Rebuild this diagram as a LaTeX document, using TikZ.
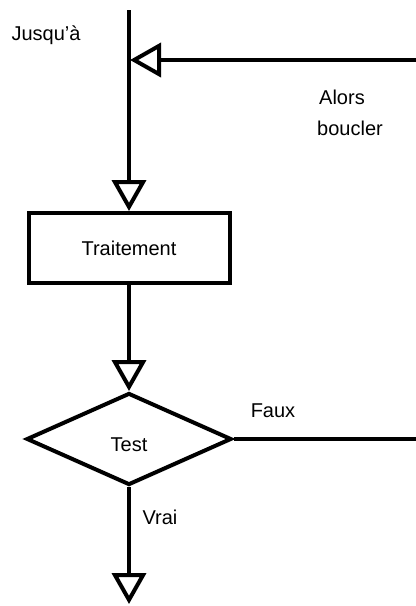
\documentclass[tikz,border=0pt]{standalone}
\usepackage{fontspec}
\setmainfont{Liberation Sans}
\usetikzlibrary{arrows.meta,shapes.geometric}
\begin{document}
\begin{tikzpicture}[line join=miter,>={Triangle[open,length=15.5pt,width=17pt]},x=0.5pt,y=-0.5pt,line width=2pt,
		bloc/.style={draw,rectangle,minimum width=100.5pt,minimum height=35pt,inner sep=0pt},
		choix/.style={draw,diamond,minimum width=102.5pt,minimum height=46pt,inner sep=0pt},
		lbl/.style={font=\fontsize{10}{12}\selectfont,inner sep=0pt}]
		\useasboundingbox (0,0) rectangle (416,606);
		\coordinate (haut) at (129,10);
		\coordinate (jonction) at (130,60);
		\coordinate (retour) at (416,60);
		\coordinate (faux) at (416,439);
		\coordinate (bas) at (129,604);
		\node[bloc,lbl] (traitement) at (129,248) {Traitement};
		\node[choix] (test) at (129,439) {};
		\draw [->] (haut)-- (traitement.north);
		\draw [->] (retour)-- (jonction);
		\draw [->] (traitement.south)-- (test.north);
		\draw (test.east)-- (faux);
		\draw [->] (test.south)-- (bas);
		%\draw [dashed] (jonction)-- (test.west);
		\node[lbl] (testtxt) at (129,445) {Test};
		\node[lbl] (jusqua) at (46,35) {Jusqu’à};
		\node[lbl] (alors) at (342,97) {Alors};
		\node[lbl] (boucler) at (350,128) {boucler};
		\node[lbl] (fauxtxt) at (273,411) {Faux};
		\node[lbl] (vrai) at (160,517) {Vrai};
		\end{tikzpicture}
\end{document}
